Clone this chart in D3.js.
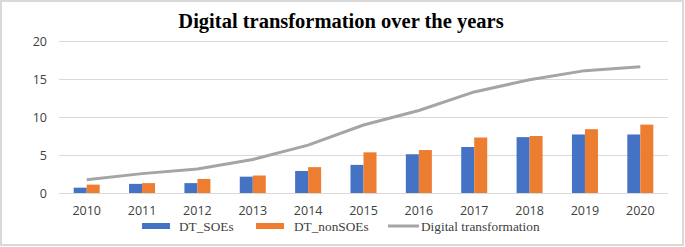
<!DOCTYPE html>
<html>
<head>
<meta charset="utf-8">
<script src="https://cdn.jsdelivr.net/npm/d3@7"></script>
<style>
  body { margin: 0; background: #fff; }
  svg { display: block; }
</style>
</head>
<body>
<div id="chart"></div>
<script>
const years = ["2010", "2011", "2012", "2013", "2014", "2015", "2016", "2017", "2018", "2019", "2020"]
const dtSOEs = [0.7, 1.2, 1.3, 2.15, 2.9, 3.7, 5.1, 6.05, 7.35, 7.7, 7.7]
const dtNonSOEs = [1.1, 1.3, 1.85, 2.3, 3.4, 5.35, 5.65, 7.3, 7.5, 8.4, 9.0]
const digitalTransformation = [1.75, 2.55, 3.15, 4.4, 6.3, 8.95, 10.85, 13.3, 14.9, 16.1, 16.6]
const yTicks = [0, 5, 10, 15, 20]

const width = 685, height = 247
const colors = { soe: "#4472c4", non: "#ed7d31", line: "#a5a5a5" }

const svg = d3.select("#chart")
  .append("svg")
  .attr("width", width)
  .attr("height", height)

// outer frame
svg.append("rect")
  .attr("x", 1).attr("y", 1)
  .attr("width", width - 3).attr("height", height - 3)
  .attr("fill", "#fff")
  .attr("stroke", "#d9d9d9")
  .attr("stroke-width", 2)

const plot = { left: 59, right: 668, top: 41, bottom: 193 }

const x = d3.scaleBand()
  .domain(years)
  .range([plot.left, plot.right])
  .paddingInner(0)

const y = d3.scaleLinear()
  .domain([0, 20])
  .range([plot.bottom, plot.top])

svg.append("text")
  .attr("x", 341)
  .attr("y", 28)
  .attr("text-anchor", "middle")
  .attr("font-family", "'Liberation Serif', 'Times New Roman', serif")
  .attr("font-weight", "bold")
  .attr("font-size", 20.5)
  .attr("fill", "#000")
  .text("Digital transformation over the years")

// gridlines + y labels
const yAxis = d3.axisLeft(y)
  .tickValues(yTicks)
  .tickSize(-(plot.right - plot.left))
  .tickPadding(12)

svg.append("g")
  .attr("transform", `translate(${plot.left},0)`)
  .call(yAxis)
  .call(g => g.select(".domain").remove())
  .call(g => g.selectAll(".tick line").attr("stroke", "#d9d9d9").attr("stroke-width", 1))
  .call(g => g.selectAll(".tick text")
    .attr("font-family", "'Open Sans', 'Liberation Sans', sans-serif")
    .attr("font-size", 12.5)
    .attr("fill", "#404040"))

// x labels
const xAxis = d3.axisBottom(x).tickSize(0).tickPadding(13)
svg.append("g")
  .attr("transform", `translate(0,${plot.bottom})`)
  .call(xAxis)
  .call(g => g.select(".domain").remove())
  .call(g => g.selectAll(".tick text")
    .attr("font-family", "'Open Sans', 'Liberation Sans', sans-serif")
    .attr("font-size", 12.5)
    .attr("fill", "#404040"))

// bars
const barW = 13
const rows = years.map((yr, i) => ({ yr, soe: dtSOEs[i], non: dtNonSOEs[i] }))

svg.append("g").selectAll("rect.soe")
  .data(rows)
  .join("rect")
  .attr("class", "soe")
  .attr("x", d => x(d.yr) + x.bandwidth() / 2 - barW)
  .attr("y", d => y(d.soe))
  .attr("width", barW)
  .attr("height", d => y(0) - y(d.soe))
  .attr("fill", colors.soe)

svg.append("g").selectAll("rect.non")
  .data(rows)
  .join("rect")
  .attr("class", "non")
  .attr("x", d => x(d.yr) + x.bandwidth() / 2)
  .attr("y", d => y(d.non))
  .attr("width", barW)
  .attr("height", d => y(0) - y(d.non))
  .attr("fill", colors.non)

// line
const line = d3.line()
  .x((d, i) => x(years[i]) + x.bandwidth() / 2)
  .y(d => y(d))

svg.append("path")
  .datum(digitalTransformation)
  .attr("d", line)
  .attr("fill", "none")
  .attr("stroke", colors.line)
  .attr("stroke-width", 3)
  .attr("stroke-linejoin", "round")

// legend
const legendFont = "'Liberation Serif', 'Times New Roman', serif"
const legendItems = [
  { label: "DT_SOEs", color: colors.soe, type: "rect", x: 142, tx: 179 },
  { label: "DT_nonSOEs", color: colors.non, type: "rect", x: 256, tx: 294 },
  { label: "Digital transformation", color: colors.line, type: "line", x: 388, tx: 421 }
]
const ly = 226
const legend = svg.append("g")
legendItems.forEach(it => {
  if (it.type === "rect") {
    legend.append("rect")
      .attr("x", it.x).attr("y", ly - 3)
      .attr("width", 28).attr("height", 6)
      .attr("fill", it.color)
  } else {
    legend.append("line")
      .attr("x1", it.x).attr("x2", it.x + 31)
      .attr("y1", ly).attr("y2", ly)
      .attr("stroke", it.color)
      .attr("stroke-width", 3)
  }
  legend.append("text")
    .attr("x", it.tx).attr("y", ly + 4.5)
    .attr("font-family", legendFont)
    .attr("font-size", 13.3)
    .attr("fill", "#404040")
    .text(it.label)
})
</script>
</body>
</html>
